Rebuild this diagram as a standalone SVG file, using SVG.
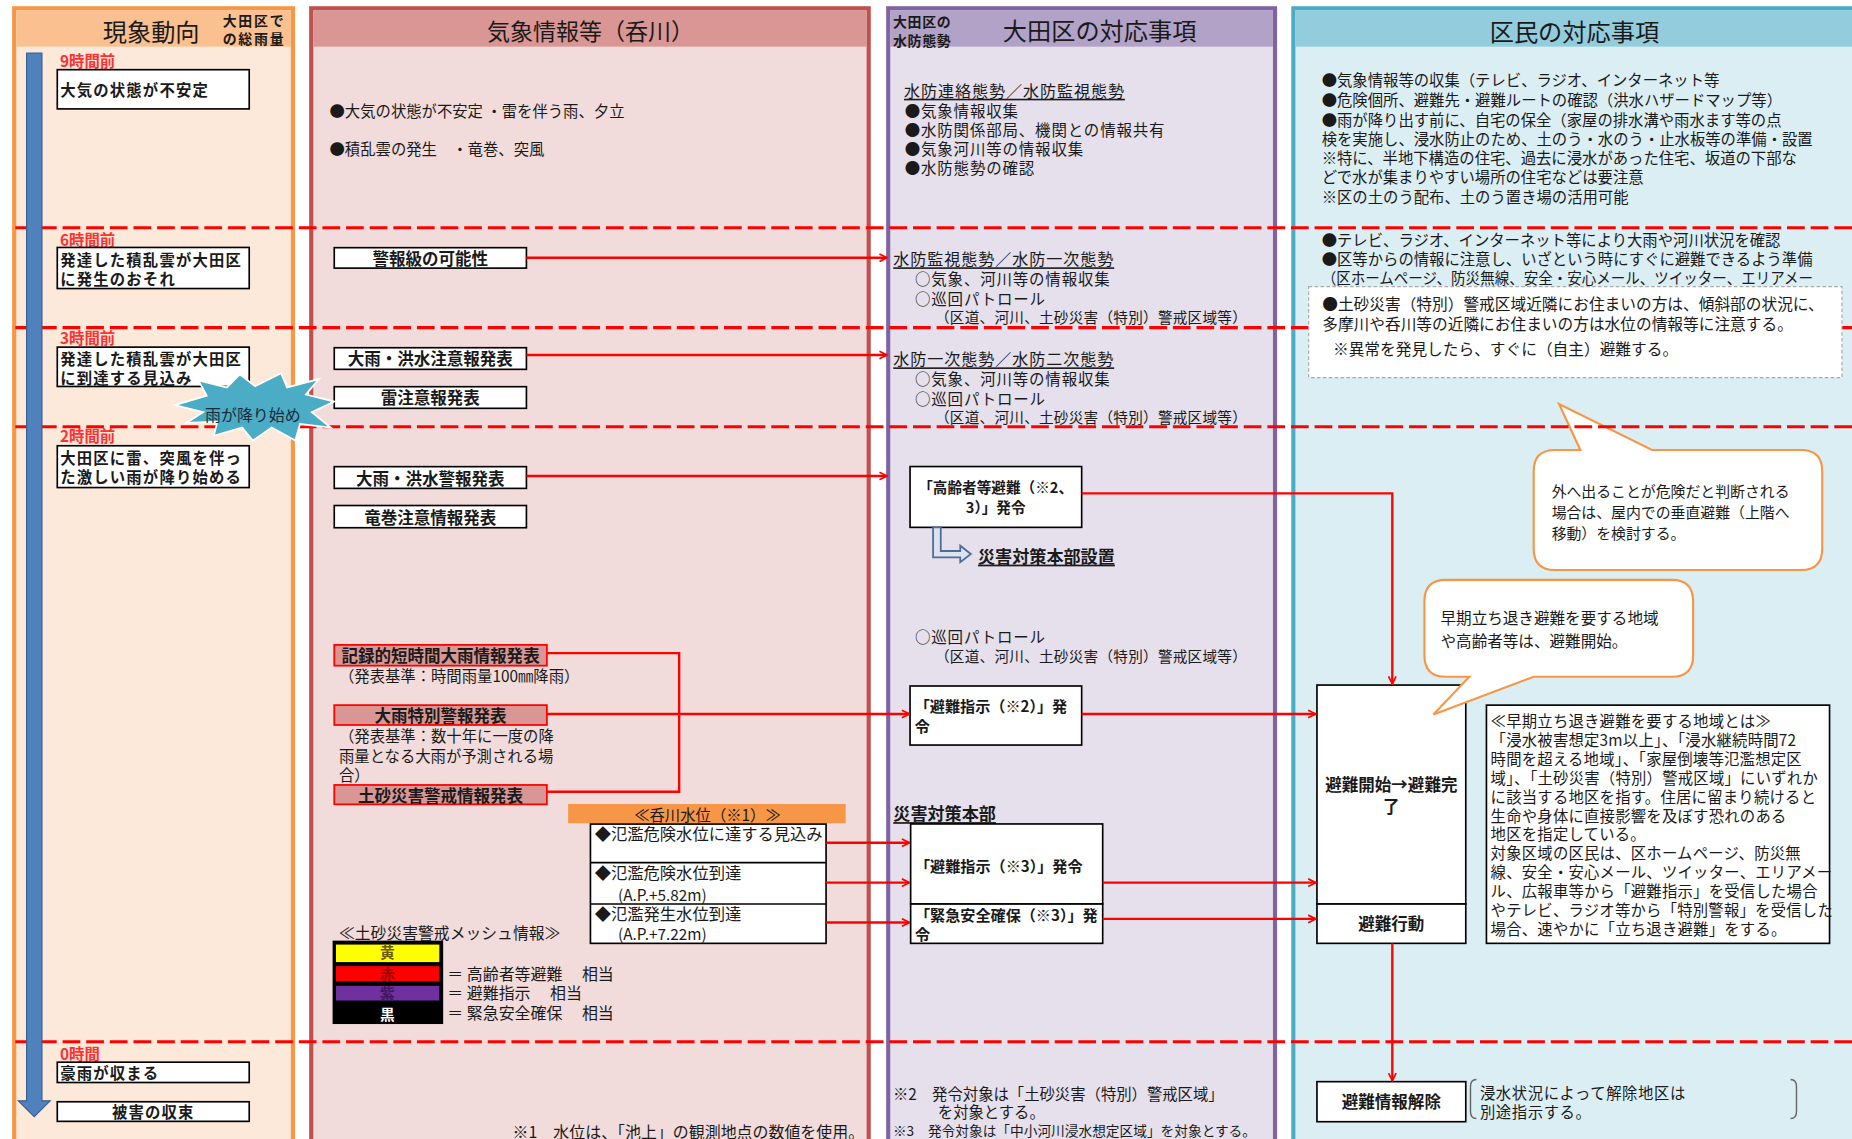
<svg xmlns="http://www.w3.org/2000/svg" width="1852" height="1139" viewBox="0 0 1852 1139">
<defs>
<style>
text{font-family:"Noto Sans CJK JP","Noto Sans",sans-serif;fill:#1a1a1a;dominant-baseline:central}
.b{font-weight:bold}
.c{text-anchor:middle}
.box{fill:#fff;stroke:#000;stroke-width:1.4}
.pbox{fill:#D99694;stroke:#f00;stroke-width:1.5}
.red{stroke:#f00;stroke-width:2;fill:none}
.arr{stroke:#f00;stroke-width:2;fill:none;marker-end:url(#ah)}
.dash{stroke:#f00;stroke-width:2.6;stroke-dasharray:15 5;fill:none}
.time{fill:#ff3030;font-weight:bold;font-size:13px}
.ul{text-decoration:underline}
.f13{font-size:13px}
.f14{font-size:14px}
.p1{font-size:13px;font-weight:bold;letter-spacing:1px}
.f128{font-size:12.8px}
.f138{font-size:13.8px}
.w3{font-size:13.1px;letter-spacing:0.7px}
.f126{font-size:12.4px;letter-spacing:0.2px}
.f132{font-size:13px;letter-spacing:0.2px}
.hs{font-size:11.8px;font-weight:bold;letter-spacing:0.6px}
.title{font-size:20.5px}
.bub{fill:#fff;stroke:#F79646;stroke-width:1.8}
</style>
<marker id="ah" viewBox="0 0 10 10" refX="9" refY="5" markerWidth="8" markerHeight="8" orient="auto" markerUnits="userSpaceOnUse">
<path d="M1,1 L9,5 L1,9" fill="none" stroke="#f00" stroke-width="1.8"/>
</marker>
</defs>
<rect width="1852" height="1139" fill="#fff"/>
<g transform="scale(1.18112)">
<g id="columns">
<rect x="12" y="7" width="236" height="975" fill="#FDE9D9" stroke="#F79646" stroke-width="3.5"/>
<rect x="13.75" y="8.75" width="232.5" height="30.75" fill="#FAC090"/>
<rect x="263.5" y="7" width="472" height="975" fill="#F2DCDB" stroke="#C0504D" stroke-width="3.5"/>
<rect x="265.25" y="8.75" width="468.5" height="30.75" fill="#D99694"/>
<rect x="752" y="7" width="327.5" height="975" fill="#E5E0EC" stroke="#8064A2" stroke-width="3.5"/>
<rect x="753.75" y="8.75" width="324" height="30.75" fill="#B3A2C7"/>
<rect x="1095" y="7" width="490" height="975" fill="#DBEEF4" stroke="#4BACC6" stroke-width="3.5"/>
<rect x="1096.75" y="8.75" width="486.5" height="30.75" fill="#93CDDD"/>
</g>

<g id="bubble-vertical">
<path class="bub" d="M1316.5,381 H1338 L1320,342 L1398.7,381 H1524.8 Q1542.8,381 1542.8,399 V464.6 Q1542.8,482.6 1524.8,482.6 H1316.5 Q1298.5,482.6 1298.5,464.6 V399 Q1298.5,381 1316.5,381 Z"/>
<text style="font-size:12.6px" x="1313.7" y="415">外へ出ることが危険だと判断される</text>
<text style="font-size:12.6px" x="1313.7" y="433">場合は、屋内での垂直避難（上階へ</text>
<text style="font-size:12.6px" x="1313.7" y="451">移動）を検討する。</text>
</g>

<g id="time-lines">
<line class="dash" x1="13" y1="192.8" x2="1568" y2="192.8"/>
<line class="dash" x1="13" y1="277.4" x2="1568" y2="277.4"/>
<line class="dash" x1="13" y1="361.3" x2="1568" y2="361.3"/>
<line class="dash" x1="13" y1="882" x2="1568" y2="882"/>
</g>

<g id="col1-header">
<text class="c" x="128" y="25.5" style="font-size:20.5px">現象動向</text>
<text class="hs" x="188.5" y="17" style="letter-spacing:1.5px">大田区で</text>
<text class="hs" x="188.5" y="32.5" style="letter-spacing:1.5px">の総雨量</text>
</g>
<g id="time-arrow">
<path d="M22.5,45 H35.5 V932 H42.5 L29,945.5 L15.5,932 H22.5 Z" fill="#4F81BD" stroke="#3A5F8F" stroke-width="1"/>
</g>
<g id="time-labels">
<text class="time" x="50.8" y="50.8">9時間前</text>
<text class="time" x="50.8" y="202.3">6時間前</text>
<text class="time" x="50.8" y="285.5">3時間前</text>
<text class="time" x="50.8" y="368">2時間前</text>
<text class="time" x="50.8" y="891.5">0時間</text>
</g>
<g id="phen-9h">
<rect class="box" x="48.5" y="59" width="162.5" height="33.2"/>
<text class="p1" x="51" y="75.5">大気の状態が不安定</text>
</g>
<g id="phen-6h">
<rect class="box" x="48.5" y="209.5" width="162.5" height="34.8"/>
<text class="p1" x="51" y="219">発達した積乱雲が大田区</text>
<text class="p1" x="51" y="235">に発生のおそれ</text>
</g>
<g id="phen-3h">
<rect class="box" x="48.5" y="293.9" width="162.5" height="33.3"/>
<text class="p1" x="51" y="303">発達した積乱雲が大田区</text>
<text class="p1" x="51" y="319">に到達する見込み</text>
</g>
<g id="phen-2h">
<rect class="box" x="48.5" y="377.4" width="162.5" height="35.4"/>
<text class="p1" x="51" y="386.8">大田区に雷、突風を伴っ</text>
<text class="p1" x="51" y="403">た激しい雨が降り始める</text>
</g>
<g id="phen-0h-a">
<rect class="box" x="48.5" y="899.3" width="162.5" height="17.2"/>
<text class="p1" x="51" y="907.8">豪雨が収まる</text>
</g>
<g id="phen-0h-b">
<rect class="box" x="48.5" y="932.8" width="162.5" height="16.6"/>
<text class="p1 c" x="129.7" y="941">被害の収束</text>
</g>

<g id="col2-header">
<text class="c" x="500" y="25.4" style="font-size:19.5px">気象情報等（呑川）</text>
</g>
<g id="wx-bullets">
<text class="f13" x="279" y="93">●大気の状態が不安定 ・雷を伴う雨、夕立</text>
<text class="f13" x="279" y="125">●積乱雲の発生　・竜巻、突風</text>
</g>
<g id="wx-keihokyu">
<rect class="box" x="283" y="209.7" width="162.7" height="17.3"/>
<text class="b f14 c" x="364.3" y="218.3">警報級の可能性</text>
</g>
<g id="wx-chuiho">
<rect class="box" x="283" y="294.4" width="162.7" height="18.3"/>
<text class="b f14 c" x="364.3" y="303.5">大雨・洪水注意報発表</text>
</g>
<g id="wx-kaminari">
<rect class="box" x="283" y="327.4" width="162.7" height="18.3"/>
<text class="b f14 c" x="364.3" y="336.5">雷注意報発表</text>
</g>
<g id="wx-keiho">
<rect class="box" x="283" y="395.1" width="162.7" height="18.4"/>
<text class="b f14 c" x="364.3" y="404.3">大雨・洪水警報発表</text>
</g>
<g id="wx-tatsumaki">
<rect class="box" x="283" y="428" width="162.7" height="18.8"/>
<text class="b f14 c" x="364.3" y="437.4">竜巻注意情報発表</text>
</g>
<g id="wx-kirokuteki">
<rect class="pbox" x="283" y="546" width="180" height="17.6"/>
<text class="b f14 c" x="373" y="554.8">記録的短時間大雨情報発表</text>
<text class="f13" x="287" y="571.8">（発表基準：時間雨量100㎜降雨）</text>
</g>
<g id="wx-tokubetsu">
<rect class="pbox" x="283" y="597" width="180" height="16.8"/>
<text class="b f14 c" x="373" y="605.4">大雨特別警報発表</text>
<text class="f13" x="287" y="622.3">（発表基準：数十年に一度の降</text>
<text class="f13" x="287" y="639">雨量となる大雨が予測される場</text>
<text class="f13" x="287" y="655">合）</text>
</g>
<g id="wx-dosha">
<rect class="pbox" x="283" y="664.6" width="180" height="16.4"/>
<text class="b f14 c" x="373" y="672.8">土砂災害警戒情報発表</text>
</g>
<g id="wx-river-level">
<rect x="481" y="680.7" width="235" height="16.3" fill="#F79646"/>
<text class="f13 c" x="599" y="689">≪呑川水位（※1）≫</text>
<rect class="box" x="499.9" y="697.7" width="199.5" height="101"/>
<line x1="499.9" y1="730.4" x2="699.4" y2="730.4" stroke="#000" stroke-width="1.4"/>
<line x1="499.9" y1="765.4" x2="699.4" y2="765.4" stroke="#000" stroke-width="1.4"/>
<text class="f138" x="503.5" y="705.6">◆氾濫危険水位に達する見込み</text>
<text class="f138" x="503.5" y="738">◆氾濫危険水位到達</text>
<text class="f13" x="523.3" y="757">(A.P.+5.82m)</text>
<text class="f138" x="503.5" y="773.3">◆氾濫発生水位到達</text>
<text class="f13" x="523.3" y="789.7">(A.P.+7.22m)</text>
</g>
<g id="wx-mesh-legend">
<text style="font-size:13.4px" x="287" y="789.7">≪土砂災害警戒メッシュ情報≫</text>
<rect x="281.6" y="796.4" width="93.6" height="70.6" fill="#000"/>
<rect x="284" y="799.3" width="88.4" height="15.7" fill="#FFFF00" stroke="#000" stroke-width="0.8"/>
<rect x="284" y="817.6" width="88.4" height="13.6" fill="#FF0000" stroke="#000" stroke-width="0.8"/>
<rect x="284" y="834.2" width="88.4" height="13.3" fill="#7030A0" stroke="#000" stroke-width="0.8"/>
<text class="b c" x="328" y="806" style="fill:#6b5a00;font-size:12.5px">黄</text>
<text class="b c" x="328" y="824" style="fill:#a00000;font-size:12.5px">赤</text>
<text class="b c" x="328" y="840.7" style="fill:#3f1660;font-size:12.5px">紫</text>
<text class="b c" x="328" y="858" style="fill:#fff;font-size:12.5px">黒</text>
<text style="font-size:13.5px" x="378.7" y="824">＝ 高齢者等避難　 相当</text>
<text style="font-size:13.5px" x="378.7" y="840.7">＝ 避難指示　 相当</text>
<text style="font-size:13.5px" x="378.7" y="857.4">＝ 緊急安全確保　 相当</text>
</g>
<g id="note1">
<text style="font-size:13.5px" x="434" y="957.6">※1　水位は、「池上」の観測地点の数値を使用。</text>
</g>

<g id="col3-header">
<text class="hs" x="756" y="17.8">大田区の</text>
<text class="hs" x="756" y="33.5">水防態勢</text>
<text class="title c" x="931" y="24.8">大田区の対応事項</text>
</g>
<g id="ward-stage1">
<text class="ul" style="font-size:13.6px;letter-spacing:0.8px" x="765.4" y="76">水防連絡態勢／水防監視態勢</text>
<text class="w3" x="766" y="93">●気象情報収集</text>
<text class="w3" x="766" y="109">●水防関係部局、機関との情報共有</text>
<text class="w3" x="766" y="125">●気象河川等の情報収集</text>
<text class="w3" x="766" y="141">●水防態勢の確認</text>
</g>
<g id="ward-stage2">
<text class="ul" style="font-size:13.6px;letter-spacing:0.8px" x="756.3" y="218.7">水防監視態勢／水防一次態勢</text>
<text class="w3" x="774.7" y="235.6">○気象、河川等の情報収集</text>
<text class="w3" x="774.7" y="252">○巡回パトロール</text>
<text class="f126" x="791.6" y="268">（区道、河川、土砂災害（特別）警戒区域等）</text>
</g>
<g id="ward-stage3">
<text class="ul" style="font-size:13.6px;letter-spacing:0.8px" x="756.3" y="303.4">水防一次態勢／水防二次態勢</text>
<text class="w3" x="774.7" y="320.3">○気象、河川等の情報収集</text>
<text class="w3" x="774.7" y="336.7">○巡回パトロール</text>
<text class="f126" x="791.6" y="352.8">（区道、河川、土砂災害（特別）警戒区域等）</text>
</g>
<g id="ward-koreisha">
<rect class="box" x="770.5" y="395" width="145.3" height="51.5"/>
<text class="b c" style="font-size:12.4px" x="843" y="412">「高齢者等避難（※2、</text>
<text class="b c" style="font-size:12.4px" x="843" y="428.5">3）」発令</text>
</g>
<g id="ward-honbu-setchi">
<path d="M790,446.5 V472 H813 V476 L822,469 L813,462 V466.5 H796.5 V446.5 Z" fill="#DCE3F0" stroke="#4F6C95" stroke-width="1.5"/>
<text class="b ul" style="font-size:14.5px" x="828" y="470">災害対策本部設置</text>
</g>
<g id="ward-patrol">
<text class="w3" x="774.7" y="538.5">○巡回パトロール</text>
<text class="f126" x="791.6" y="554.6">（区道、河川、土砂災害（特別）警戒区域等）</text>
</g>
<g id="ward-shiji2">
<rect class="box" x="770.5" y="580.8" width="145.3" height="50"/>
<text class="b f128" x="774.5" y="597">「避難指示（※2）」発</text>
<text class="b f128" x="774.5" y="613.8">令</text>
</g>
<g id="ward-honbu">
<text class="b ul" style="font-size:14.5px" x="756.3" y="688">災害対策本部</text>
</g>
<g id="ward-shiji3">
<rect class="box" x="771" y="697.6" width="162.6" height="67.8"/>
<text class="b f128" x="774.7" y="732">「避難指示（※3）」発令</text>
</g>
<g id="ward-kinkyu">
<rect class="box" x="771" y="765.4" width="162.6" height="33.3"/>
<text class="b f128" x="774.7" y="773.5">「緊急安全確保（※3）」発</text>
<text class="b f128" x="774.7" y="790">令</text>
</g>
<g id="notes23">
<text class="f13" x="756" y="925.5">※2　発令対象は「土砂災害（特別）警戒区域」</text>
<text class="f13" x="794" y="941">を対象とする。</text>
<text style="font-size:11.6px" x="756" y="956.7">※3　発令対象は「中小河川浸水想定区域」を対象とする。</text>
</g>

<g id="col4-header">
<text class="title c" x="1333" y="25.4">区民の対応事項</text>
</g>
<g id="res-stage1">
<text class="f13" x="1119" y="67.2">●気象情報等の収集（テレビ、ラジオ、インターネット等</text>
<text class="f13" x="1119" y="84.1">●危険個所、避難先・避難ルートの確認（洪水ハザードマップ等）</text>
<text class="f13" x="1119" y="101">●雨が降り出す前に、自宅の保全（家屋の排水溝や雨水ます等の点</text>
<text class="f13" x="1119" y="116.8">検を実施し、浸水防止のため、土のう・水のう・止水板等の準備・設置</text>
<text class="f13" x="1119" y="132.8">※特に、半地下構造の住宅、過去に浸水があった住宅、坂道の下部な</text>
<text class="f13" x="1119" y="149">どで水が集まりやすい場所の住宅などは要注意</text>
<text class="f13" x="1119" y="166">※区の土のう配布、土のう置き場の活用可能</text>
</g>
<g id="res-stage2">
<text class="f13" x="1119" y="202.6">●テレビ、ラジオ、インターネット等により大雨や河川状況を確認</text>
<text class="f13" x="1119" y="218.7">●区等からの情報に注意し、いざという時にすぐに避難できるよう準備</text>
<text class="f13" x="1119" y="234.8" textLength="416" lengthAdjust="spacingAndGlyphs">（区ホームページ、防災無線、安全・安心メール、ツイッター、エリアメー</text>
</g>
<g id="res-dosha-note">
<rect x="1108" y="242.7" width="451.5" height="77" fill="#fff" stroke="#aaa" stroke-width="1" stroke-dasharray="3 2"/>
<text style="font-size:13.3px" x="1119.5" y="256.8">●土砂災害（特別）警戒区域近隣にお住まいの方は、傾斜部の状況に、</text>
<text style="font-size:13.3px" x="1119.5" y="274.3">多摩川や呑川等の近隣にお住まいの方は水位の情報等に注意する。</text>
<text style="font-size:13.3px" x="1128.6" y="295">※異常を発見したら、すぐに（自主）避難する。</text>
</g>
<g id="res-hinan">
<rect class="box" x="1115" y="580" width="126" height="185.4"/>
<text class="b f14 c" x="1178" y="664">避難開始→避難完</text>
<text class="b f14 c" x="1178" y="682">了</text>
</g>
<g id="res-kodo">
<rect class="box" x="1115" y="765.4" width="126" height="33.3"/>
<text class="b f14 c" x="1178" y="781.7">避難行動</text>
</g>
<g id="bubble-early">
<path class="bub" d="M1224,491 H1415.5 Q1433.5,491 1433.5,509 V555 Q1433.5,573 1415.5,573 H1298.5 L1213.6,605 L1244,573 H1224 Q1206,573 1206,555 V509 Q1206,491 1224,491 Z"/>
<text style="font-size:13.2px" x="1219.6" y="522">早期立ち退き避難を要する地域</text>
<text style="font-size:13.2px" x="1219.6" y="542">や高齢者等は、避難開始。</text>
</g>
<g id="res-early-def">
<rect class="box" x="1258.5" y="597" width="290.5" height="201.7"/>
<text class="f132" x="1262" y="609.6">≪早期立ち退き避難を要する地域とは≫</text>
<text class="f132" x="1262" y="625.6">「浸水被害想定3m以上」、「浸水継続時間72</text>
<text class="f132" x="1262" y="641.6">時間を超える地域」、「家屋倒壊等氾濫想定区</text>
<text class="f132" x="1262" y="657.6">域」、「土砂災害（特別）警戒区域」にいずれか</text>
<text class="f132" x="1262" y="673.6">に該当する地区を指す。住居に留まり続けると</text>
<text class="f132" x="1262" y="689.6">生命や身体に直接影響を及ぼす恐れのある</text>
<text class="f132" x="1262" y="705.6">地区を指定している。</text>
<text class="f132" x="1262" y="721.6">対象区域の区民は、区ホームページ、防災無</text>
<text class="f132" x="1262" y="737.6">線、安全・安心メール、ツイッター、エリアメー</text>
<text class="f132" x="1262" y="753.6">ル、広報車等から「避難指示」を受信した場合</text>
<text class="f132" x="1262" y="769.6">やテレビ、ラジオ等から「特別警報」を受信した</text>
<text class="f132" x="1262" y="785.6">場合、速やかに「立ち退き避難」をする。</text>
</g>
<g id="res-kaijo">
<rect class="box" x="1115" y="915.8" width="126" height="33.9"/>
<text class="b f14 c" x="1178" y="932">避難情報解除</text>
<path d="M1250,914 Q1245,914 1245,920 V941 Q1245,947 1250,947" fill="none" stroke="#666" stroke-width="1.2"/>
<path d="M1516,914 Q1521,914 1521,920 V941 Q1521,947 1516,947" fill="none" stroke="#666" stroke-width="1.2"/>
<text style="font-size:13px;letter-spacing:0.5px" x="1253" y="924.5">浸水状況によって解除地区は</text>
<text style="font-size:13px;letter-spacing:0.5px" x="1253" y="940.5">別途指示する。</text>
</g>

<g id="burst-rain-start">
<polygon points="148,343 175,335 168,322 192,328 203,317 216,327 238,316 243,328 270,321 259,334 283,340 264,349 280,362 254,359 250,373 230,362 214,373 205,362 181,369 184,357 158,358 172,349" fill="#4BACC6" stroke="#fff" stroke-width="1.5"/>
<text style="font-size:13.5px;fill:#1b2a3a" x="173.6" y="350.7">雨が降り始め</text>
</g>

<g id="connectors">
<path class="arr" d="M445.7,218.2 H751"/>
<path class="arr" d="M445.7,300.6 H751"/>
<path class="arr" d="M445.7,403 H751"/>
<path class="red" d="M463,553 H575 V670.3 H463"/>
<path class="arr" d="M463,604.5 H770"/>
<path class="arr" d="M699.4,713.5 H770"/>
<path class="arr" d="M699.4,747.3 H770"/>
<path class="arr" d="M699.4,781 H770"/>
<path class="arr" d="M915.8,417.7 H1178.8 V579"/>
<path class="arr" d="M915.8,604.5 H1114"/>
<path class="arr" d="M933.6,747.3 H1114"/>
<path class="arr" d="M933.6,778 H1114"/>
<path class="arr" d="M1178.8,798.7 V915"/>
</g>
</g>
</svg>
